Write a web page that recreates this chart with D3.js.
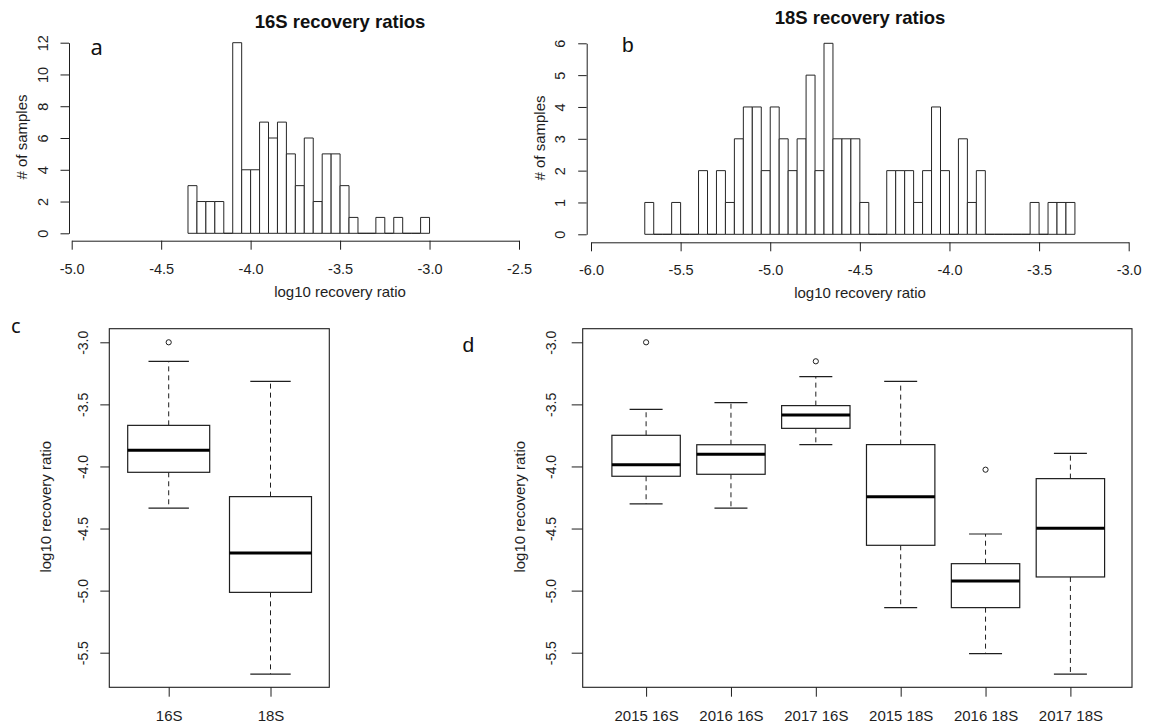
<!DOCTYPE html>
<html>
<head>
<meta charset="utf-8">
<script src="https://cdn.jsdelivr.net/npm/d3@7"></script>
<style>
  body { margin: 0; background: #fff; }
  svg { display: block; font-family: "Liberation Sans", Arial, sans-serif; }
</style>
</head>
<body>
<svg id="fig" width="1150" height="725"></svg>
<script>
// ---- Histogram data: lower bin edges (bin width 0.05) and sample counts ----
const binWidth = 0.05;
const hist16Lower = [-4.35, -4.30, -4.25, -4.20, -4.15, -4.10, -4.05, -4.00, -3.95, -3.90,
                     -3.85, -3.80, -3.75, -3.70, -3.65, -3.60, -3.55, -3.50, -3.45, -3.40,
                     -3.35, -3.30, -3.25, -3.20, -3.15, -3.10, -3.05];
const hist16Counts = [3, 2, 2, 2, 0, 12, 4, 4, 7, 6,
                      7, 5, 3, 6, 2, 5, 5, 3, 1, 0,
                      0, 1, 0, 1, 0, 0, 1];
const hist16XTicks = [-5.0, -4.5, -4.0, -3.5, -3.0, -2.5];
const hist16YTicks = [0, 2, 4, 6, 8, 10, 12];

const hist18Lower = [-5.70, -5.65, -5.60, -5.55, -5.50, -5.45, -5.40, -5.35, -5.30, -5.25,
                     -5.20, -5.15, -5.10, -5.05, -5.00, -4.95, -4.90, -4.85, -4.80, -4.75,
                     -4.70, -4.65, -4.60, -4.55, -4.50, -4.45, -4.40, -4.35, -4.30, -4.25,
                     -4.20, -4.15, -4.10, -4.05, -4.00, -3.95, -3.90, -3.85, -3.80, -3.75,
                     -3.70, -3.65, -3.60, -3.55, -3.50, -3.45, -3.40, -3.35];
const hist18Counts = [1, 0, 0, 1, 0, 0, 2, 0, 2, 1,
                      3, 4, 4, 2, 4, 3, 2, 3, 5, 2,
                      6, 3, 3, 3, 1, 0, 0, 2, 2, 2,
                      1, 2, 4, 2, 0, 3, 1, 2, 0, 0,
                      0, 0, 0, 1, 0, 1, 1, 1];
const hist18XTicks = [-6.0, -5.5, -5.0, -4.5, -4.0, -3.5, -3.0];
const hist18YTicks = [0, 1, 2, 3, 4, 5, 6];

// ---- Boxplot data (log10 recovery ratio) ----
const boxTicks = [-3.0, -3.5, -4.0, -4.5, -5.0, -5.5];

const markerGroups = ["16S", "18S"];
const markerLow    = [-4.335, -5.672];
const markerQ1     = [-4.047, -5.014];
const markerMedian = [-3.870, -4.697];
const markerQ3     = [-3.669, -4.243];
const markerHigh   = [-3.153, -3.314];
const markerOutliers = [[-3.0], []];

const yearGroups = ["2015 16S", "2016 16S", "2017 16S", "2015 18S", "2016 18S", "2017 18S"];
const yearLow    = [-4.302, -4.335, -3.824, -5.137, -5.508, -5.672];
const yearQ1     = [-4.079, -4.063, -3.693, -4.635, -5.137, -4.890];
const yearMedian = [-3.986, -3.902, -3.585, -4.243, -4.923, -4.498];
const yearQ3     = [-3.749, -3.825, -3.510, -3.824, -4.783, -4.098];
const yearHigh   = [-3.540, -3.486, -3.277, -3.314, -4.544, -3.894];
const yearOutliers = [[-3.0], [], [-3.153], [], [-4.026], []];

// ---- Drawing ----
const svg = d3.select("#fig");
const ink = "#1e1e1e";
const tickFont = 14.5;
const labelFont = 15;

function styleAxis(g) {
  g.attr("font-size", null).attr("font-family", null);
  g.selectAll("line").attr("stroke", ink);
  g.selectAll(".domain").attr("stroke", ink);
  g.selectAll("text").attr("fill", ink).attr("font-size", tickFont);
}

function rotatedLabel(x, y, text, size) {
  svg.append("text")
    .attr("transform", `translate(${x},${y}) rotate(-90)`)
    .attr("text-anchor", "middle")
    .attr("fill", ink)
    .attr("font-size", size)
    .text(text);
}

function drawHistogram(cfg) {
  const { lower, counts, x, y, xTicks, yTicks, xAxisY, yAxisX, title, titleY,
          yTextOffset, yTitleX, yTitleY, xTitleY, xTickBaseline } = cfg;
  const g = svg.append("g");

  g.selectAll("path.bar")
    .data(lower.map((l, i) => ({ l, c: counts[i] })))
    .join("path")
    .attr("class", "bar")
    .attr("d", d => `M${x(d.l)},${y(0)}V${y(d.c)}H${x(d.l + binWidth)}V${y(0)}Z`)
    .attr("fill", "#fff")
    .attr("stroke", "#262626")
    .attr("stroke-width", 1);

  const xa = g.append("g")
    .attr("transform", `translate(0,${xAxisY})`)
    .call(d3.axisBottom(x).tickValues(xTicks).tickSize(9).tickSizeOuter(0)
      .tickFormat(d => d.toFixed(1)));
  styleAxis(xa);
  xa.selectAll("text").attr("y", xTickBaseline).attr("dy", 0);

  const ya = g.append("g")
    .attr("transform", `translate(${yAxisX},0)`)
    .call(d3.axisLeft(y).tickValues(yTicks).tickSize(8.5).tickSizeOuter(0)
      .tickFormat(d3.format("d")));
  styleAxis(ya);
  ya.selectAll("text")
    .attr("x", 0).attr("y", 0).attr("dy", 0)
    .attr("text-anchor", "middle")
    .attr("transform", `translate(${yTextOffset},0) rotate(-90)`);

  const cx = (x.range()[0] + x.range()[1]) / 2;
  svg.append("text")
    .attr("x", cfg.titleX).attr("y", titleY)
    .attr("text-anchor", "middle")
    .attr("font-weight", "bold")
    .attr("font-size", 18.5)
    .attr("fill", "#111")
    .text(title);

  svg.append("text")
    .attr("x", cfg.titleX).attr("y", xTitleY)
    .attr("text-anchor", "middle")
    .attr("font-size", labelFont)
    .attr("fill", ink)
    .text("log10 recovery ratio");

  rotatedLabel(yTitleX, yTitleY, "# of samples", labelFont);
}

// panel a: 16S histogram
const xA = d3.scaleLinear().domain([-5.0, -2.5]).range([71.7, 519]);
const yA = d3.scaleLinear().domain([0, 12]).range([233.3, 42.7]);
drawHistogram({
  lower: hist16Lower, counts: hist16Counts, x: xA, y: yA,
  xTicks: hist16XTicks, yTicks: hist16YTicks,
  xAxisY: 240.7, yAxisX: 69, yTextOffset: -21.5,
  title: "16S recovery ratios", titleX: 340, titleY: 27.5,
  xTitleY: 297.3, xTickBaseline: 33.3,
  yTitleX: 26.8, yTitleY: 137
});

// panel b: 18S histogram
const xB = d3.scaleLinear().domain([-6.0, -3.0]).range([591, 1128.7]);
const yB = d3.scaleLinear().domain([0, 6]).range([234.3, 43.3]);
drawHistogram({
  lower: hist18Lower, counts: hist18Counts, x: xB, y: yB,
  xTicks: hist18XTicks, yTicks: hist18YTicks,
  xAxisY: 242.3, yAxisX: 586.7, yTextOffset: -22,
  title: "18S recovery ratios", titleX: 860, titleY: 23.5,
  xTitleY: 297.5, xTickBaseline: 33.2,
  yTitleX: 544.5, yTitleY: 138
});

function drawBoxplot(cfg) {
  const { groups, low, q1, med, q3, high, outliers, x, y, frame,
          halfBox, halfCap, tickLen, yTextOffset, yTitleX } = cfg;
  const g = svg.append("g");

  g.append("rect")
    .attr("x", frame.x0).attr("y", frame.y0)
    .attr("width", frame.x1 - frame.x0).attr("height", frame.y1 - frame.y0)
    .attr("fill", "none").attr("stroke", ink).attr("stroke-width", 1.1);

  const ya = g.append("g")
    .attr("transform", `translate(${frame.x0},0)`)
    .call(d3.axisLeft(y).tickValues(boxTicks).tickSize(tickLen).tickSizeOuter(0)
      .tickFormat(d => d.toFixed(1)));
  styleAxis(ya);
  ya.select(".domain").remove();
  ya.selectAll("text")
    .attr("font-size", 14)
    .attr("x", 0).attr("y", 0).attr("dy", 0)
    .attr("text-anchor", "middle")
    .attr("transform", `translate(${yTextOffset},0) rotate(-90)`);

  const xa = g.append("g")
    .attr("transform", `translate(0,${frame.y1})`)
    .call(d3.axisBottom(x).tickSize(9.4).tickSizeOuter(0));
  styleAxis(xa);
  xa.select(".domain").remove();
  xa.selectAll("text").attr("font-size", labelFont).attr("y", 33.4).attr("dy", 0);

  const rows = groups.map((k, i) => ({
    k, lo: low[i], q1: q1[i], med: med[i], q3: q3[i], hi: high[i], out: outliers[i]
  }));

  const box = g.selectAll("g.box").data(rows).join("g").attr("class", "box");

  // dashed whiskers
  box.append("line")
    .attr("x1", d => x(d.k)).attr("x2", d => x(d.k))
    .attr("y1", d => y(d.q3)).attr("y2", d => y(d.hi))
    .attr("stroke", ink).attr("stroke-dasharray", "5,4");
  box.append("line")
    .attr("x1", d => x(d.k)).attr("x2", d => x(d.k))
    .attr("y1", d => y(d.q1)).attr("y2", d => y(d.lo))
    .attr("stroke", ink).attr("stroke-dasharray", "5,4");

  // whisker caps
  box.append("line")
    .attr("x1", d => x(d.k) - halfCap).attr("x2", d => x(d.k) + halfCap)
    .attr("y1", d => y(d.hi)).attr("y2", d => y(d.hi))
    .attr("stroke", ink).attr("stroke-width", 1.2);
  box.append("line")
    .attr("x1", d => x(d.k) - halfCap).attr("x2", d => x(d.k) + halfCap)
    .attr("y1", d => y(d.lo)).attr("y2", d => y(d.lo))
    .attr("stroke", ink).attr("stroke-width", 1.2);

  // interquartile box
  box.append("rect")
    .attr("x", d => x(d.k) - halfBox)
    .attr("y", d => y(d.q3))
    .attr("width", 2 * halfBox)
    .attr("height", d => y(d.q1) - y(d.q3))
    .attr("fill", "#fff").attr("stroke", ink).attr("stroke-width", 1.2);

  // median
  box.append("line")
    .attr("x1", d => x(d.k) - halfBox).attr("x2", d => x(d.k) + halfBox)
    .attr("y1", d => y(d.med)).attr("y2", d => y(d.med))
    .attr("stroke", "#000").attr("stroke-width", 3);

  // outliers
  box.selectAll("circle")
    .data(d => d.out.map(v => ({ k: d.k, v })))
    .join("circle")
    .attr("cx", d => x(d.k)).attr("cy", d => y(d.v))
    .attr("r", 2.6)
    .attr("fill", "none").attr("stroke", ink).attr("stroke-width", 1);

  rotatedLabel(yTitleX, 506.7, "log10 recovery ratio", labelFont);
}

const yBox = d3.scaleLinear().domain([-3.0, -5.5]).range([342.3, 652.7]);

// panel c: by marker
const xC = d3.scalePoint().domain(markerGroups).range([168.7, 270.5]);
drawBoxplot({
  groups: markerGroups, low: markerLow, q1: markerQ1, med: markerMedian,
  q3: markerQ3, high: markerHigh, outliers: markerOutliers,
  x: xC, y: yBox,
  frame: { x0: 109.3, x1: 329.3, y0: 328.7, y1: 687.3 },
  halfBox: 41, halfCap: 20.2, tickLen: 9, yTextOffset: -21.6, yTitleX: 51
});

// panel d: by year and marker
const xD = d3.scalePoint().domain(yearGroups).range([646.1, 1070.4]);
drawBoxplot({
  groups: yearGroups, low: yearLow, q1: yearQ1, med: yearMedian,
  q3: yearQ3, high: yearHigh, outliers: yearOutliers,
  x: xD, y: yBox,
  frame: { x0: 582.7, x1: 1132, y0: 328.7, y1: 687.3 },
  halfBox: 34.2, halfCap: 16.5, tickLen: 11, yTextOffset: -26.5, yTitleX: 524.5
});

// panel letters
svg.append("text").attr("x", 90.5).attr("y", 55).attr("font-family", "'Noto Sans', 'Open Sans', sans-serif")
  .attr("font-size", 22).attr("fill", "#111").text("a");
svg.append("text").attr("x", 622).attr("y", 51.7)
  .attr("font-size", 21).attr("fill", "#111").text("b");
svg.append("text").attr("x", 11).attr("y", 333.3).attr("font-family", "'Noto Sans', 'Open Sans', sans-serif")
  .attr("font-size", 20).attr("fill", "#111").text("c");
svg.append("text").attr("x", 462.5).attr("y", 351.7)
  .attr("font-size", 21).attr("fill", "#111").text("d");
</script>
</body>
</html>
